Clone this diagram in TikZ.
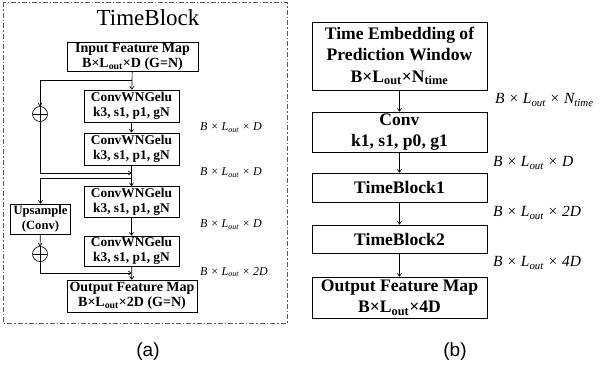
\documentclass[tikz,border=0pt]{standalone}
\usepackage{fontspec}
\setmainfont{Liberation Serif}
\newfontfamily\capfont{Liberation Sans}
\usetikzlibrary{arrows.meta}
\begin{document}
\begin{tikzpicture}[x=1pt,y=-1pt,
  abox/.style={draw, line width=0.85pt, align=center, inner sep=0pt,
    font=\bfseries\fontsize{14}{14.6}\selectfont},
  cbox/.style={abox, minimum width=95pt, font=\bfseries\fontsize{13.4}{14.8}\selectfont},
  bbox/.style={abox, font=\bfseries\fontsize{17.6}{21.5}\selectfont},
  arr/.style={-{To[length=3.5pt,width=4.5pt]}, line width=0.65pt},
  dimlab/.style={anchor=west, inner sep=0pt, font=\itshape\fontsize{12}{14}\selectfont},
  dimlabb/.style={dimlab, font=\itshape\fontsize{15.5}{18}\selectfont},
  plus/.style={circle, draw, line width=0.65pt, minimum size=15pt, inner sep=0pt,
    path picture={\draw[line width=0.65pt] (path picture bounding box.north) -- (path picture bounding box.south)
      (path picture bounding box.west) -- (path picture bounding box.east);}},
  captext/.style={font=\capfont\fontsize{19}{22}\selectfont, inner sep=0pt}
]
\useasboundingbox (0,0) rectangle (600,373);
% frame of (a)
\draw[gray!70!black, line width=0.7pt, dash pattern=on 5pt off 2pt on 1.5pt off 2pt] (3,2) rectangle (287,323);
\node[font=\fontsize{23}{26}\selectfont, inner sep=0pt] (title) at (148,18) {TimeBlock};
% (a) boxes
\node[abox, minimum width=131pt, minimum height=28.5pt] (in) at (132.5,57) {Input Feature Map\\B×L\textsubscript{out}×D (G=N)};
\node[cbox, minimum height=32pt] (c1) at (131.5,106) {ConvWNGelu\\k3, s1, p1, gN};
\node[cbox, minimum height=32pt] (c2) at (131.5,149) {ConvWNGelu\\k3, s1, p1, gN};
\node[cbox, minimum height=31pt] (c3) at (131.5,202) {ConvWNGelu\\k3, s1, p1, gN};
\node[cbox, minimum height=30pt] (c4) at (131.5,251) {ConvWNGelu\\k3, s1, p1, gN};
\node[abox, minimum width=130pt, minimum height=32pt] (out) at (132,296) {Output Feature Map\\B×L\textsubscript{out}×2D (G=N)};
\node[abox, minimum width=60pt, minimum height=30pt, font=\bfseries\fontsize{12.6}{14.6}\selectfont] (up) at (40.5,219) {Upsample\\(Conv)};
\node[plus] (p1) at (40,114) {};
\node[plus] (p2) at (40,254) {};
\coordinate (b1) at (131.5,80);
\coordinate (j1) at (131.5,173);
\coordinate (b2) at (131.5,178);
\coordinate (j2) at (131.5,273);
% (a) connectors
\draw[arr] (in) -- (c1);
\draw[arr] (c1) -- (c2);
\draw[arr] (c2) -- (c3);
\draw[arr] (c3) -- (c4);
\draw[arr] (c4) -- (out);
\draw[arr] (b1) -| (p1);
\draw[arr] (p1) |- (j1);
\draw[arr] (b2) -| (up);
\draw[arr] (up) -- (p2);
\draw[arr] (p2) |- (j2);
% (a) labels
\node[dimlab] (la1) at (200,128) {B × L\textsubscript{out} × D};
\node[dimlab] (la2) at (200,173) {B × L\textsubscript{out} × D};
\node[dimlab] (la3) at (200,225) {B × L\textsubscript{out} × D};
\node[dimlab] (la4) at (200,272) {B × L\textsubscript{out} × 2D};
% (b) boxes
\node[bbox, minimum width=175pt, minimum height=68pt] (te) at (399.5,56) {Time Embedding of\\Prediction Window\\B×L\textsubscript{out}×N\textsubscript{time}};
\node[bbox, minimum width=175pt, minimum height=40pt] (conv) at (399.5,132) {Conv\\k1, s1, p0, g1};
\node[bbox, minimum width=175pt, minimum height=29pt] (tb1) at (399.5,187.5) {TimeBlock1};
\node[bbox, minimum width=175pt, minimum height=28pt] (tb2) at (399.5,239) {TimeBlock2};
\node[bbox, minimum width=175pt, minimum height=41pt] (ob) at (399.5,297.5) {Output Feature Map\\B×L\textsubscript{out}×4D};
\draw[arr] (te) -- (conv);
\draw[arr] (conv) -- (tb1);
\draw[arr] (tb1) -- (tb2);
\draw[arr] (tb2) -- (ob);
\node[dimlabb] (lb1) at (495,100) {B × L\textsubscript{out} × N\textsubscript{time}};
\node[dimlabb] (lb2) at (493,163) {B × L\textsubscript{out} × D};
\node[dimlabb] (lb3) at (493,213) {B × L\textsubscript{out} × 2D};
\node[dimlabb] (lb4) at (493,263) {B × L\textsubscript{out} × 4D};
% captions
\node[captext] (ca) at (148,352) {(a)};
\node[captext] (cb) at (455,352) {(b)};
\end{tikzpicture}
\end{document}
